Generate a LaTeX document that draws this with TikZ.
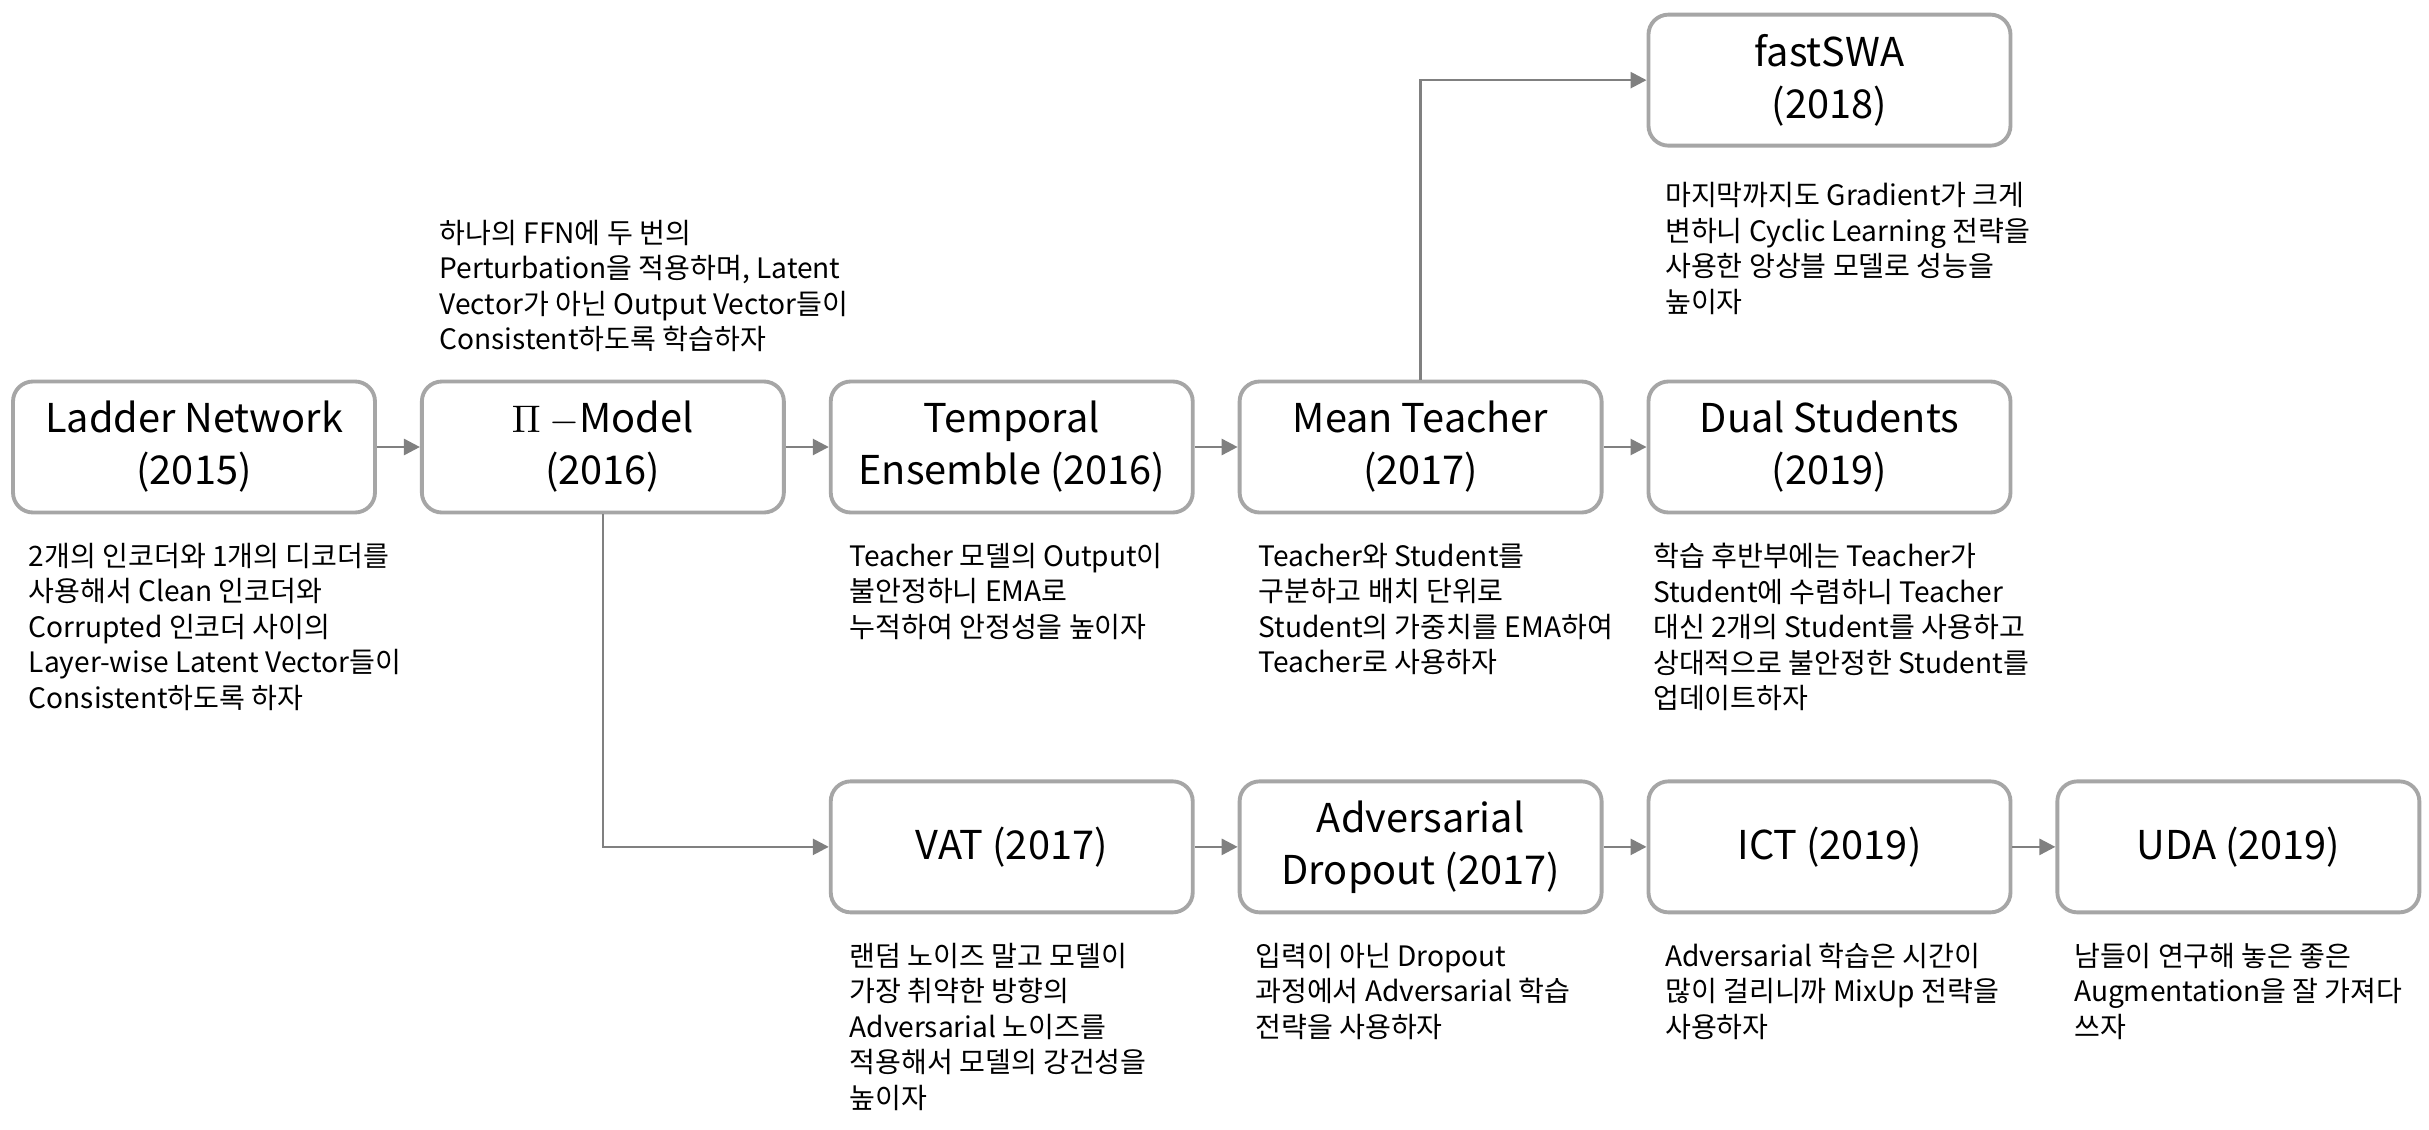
\documentclass[tikz,border=0pt]{standalone}
\usepackage{fontspec}
\setmainfont{Noto Sans CJK KR}
\usetikzlibrary{arrows.meta,positioning}

\definecolor{boxgray}{HTML}{A6A6A6}
\definecolor{arrowgray}{HTML}{808080}

\begin{document}
\begin{tikzpicture}[
    >={Triangle[length=0.16cm, width=0.16cm]},
    node distance=2.32cm and 0.43cm,
    model/.style={draw=boxgray, line width=1.1pt, rounded corners=0.2cm, fill=white,
                  minimum width=3.62cm, minimum height=1.31cm, align=center,
                  font=\fontsize{11.3}{14.8}\selectfont},
    desc/.style={align=left, inner sep=0pt, font=\fontsize{8}{10.1}\selectfont},
    flow/.style={->, line width=0.75pt, draw=arrowgray}
  ]
  \path[use as bounding box, fill=white] (0,0) rectangle (24.29,-11.29);

  %% Main row
  \node (ladder)   [model] at (1.94,-4.47) {Ladder Network\\(2015)};
  \node (pimodel)  [model, right=of ladder]   {$\Pi$ $-$Model\\(2016)};
  \node (temporal) [model, right=of pimodel]  {Temporal\\Ensemble (2016)};
  \node (mean)     [model, right=of temporal] {Mean Teacher\\(2017)};
  \node (dual)     [model, right=of mean]     {Dual Students\\(2019)};

  %% Branch above Mean Teacher
  \node (fastswa)  [model, above=of dual]     {fastSWA\\(2018)};

  %% Lower row (from Pi-Model)
  \node (vat)      [model, below=2.65cm of temporal] {VAT (2017)};
  \node (advdrop)  [model, right=of vat]      {Adversarial\\Dropout (2017)};
  \node (ict)      [model, right=of advdrop]  {ICT (2019)};
  \node (uda)      [model, right=of ict]      {UDA (2019)};

  %% Connectors
  \draw[flow] (ladder)   -- (pimodel);
  \draw[flow] (pimodel)  -- (temporal);
  \draw[flow] (temporal) -- (mean);
  \draw[flow] (mean)     -- (dual);
  \draw[flow] (mean.north)    |- (fastswa.west);
  \draw[flow] (pimodel.south) |- (vat.west);
  \draw[flow] (vat)      -- (advdrop);
  \draw[flow] (advdrop)  -- (ict);
  \draw[flow] (ict)      -- (uda);

  %% Descriptions
  \node (ladderdesc) [desc, below right=0.28cm and 0.17cm of ladder.south west]
    {2개의 인코더와 1개의 디코더를\\사용해서 Clean 인코더와\\Corrupted 인코더 사이의\\Layer-wise Latent Vector들이\\Consistent하도록 하자};
  \node (pidesc) [desc, above right=0.27cm and 0.19cm of pimodel.north west]
    {하나의 FFN에 두 번의\\Perturbation을 적용하며, Latent\\Vector가 아닌 Output Vector들이\\Consistent하도록 학습하자};
  \node (temporaldesc) [desc, below right=0.28cm and 0.2cm of temporal.south west]
    {Teacher 모델의 Output이\\불안정하니 EMA로\\누적하여 안정성을 높이자};
  \node (meandesc) [desc, below right=0.28cm and 0.2cm of mean.south west]
    {Teacher와 Student를\\구분하고 배치 단위로\\Student의 가중치를 EMA하여\\Teacher로 사용하자};
  \node (dualdesc) [desc, below right=0.28cm and 0.06cm of dual.south west]
    {학습 후반부에는 Teacher가\\Student에 수렴하니 Teacher\\대신 2개의 Student를 사용하고\\상대적으로 불안정한 Student를\\업데이트하자};
  \node (fastswadesc) [desc, below right=0.34cm and 0.18cm of fastswa.south west]
    {마지막까지도 Gradient가 크게\\변하니 Cyclic Learning 전략을\\사용한 앙상블 모델로 성능을\\높이자};
  \node (vatdesc) [desc, below right=0.28cm and 0.2cm of vat.south west]
    {랜덤 노이즈 말고 모델이\\가장 취약한 방향의\\Adversarial 노이즈를\\적용해서 모델의 강건성을\\높이자};
  \node (advdropdesc) [desc, below right=0.28cm and 0.17cm of advdrop.south west]
    {입력이 아닌 Dropout\\과정에서 Adversarial 학습\\전략을 사용하자};
  \node (ictdesc) [desc, below right=0.28cm and 0.18cm of ict.south west]
    {Adversarial 학습은 시간이\\많이 걸리니까 MixUp 전략을\\사용하자};
  \node (udadesc) [desc, below right=0.28cm and 0.18cm of uda.south west]
    {남들이 연구해 놓은 좋은\\Augmentation을 잘 가져다\\쓰자};

\end{tikzpicture}
\end{document}
